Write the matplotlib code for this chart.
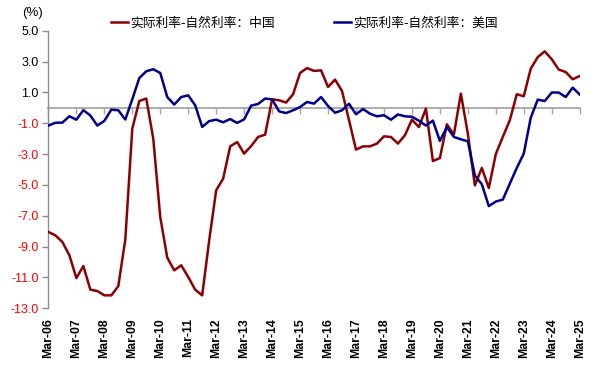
import numpy as np
import matplotlib
matplotlib.use('Agg')
import matplotlib.pyplot as plt

plt.rcParams['font.family'] = ['Liberation Sans', 'Noto Sans CJK SC', 'DejaVu Sans']

# ---- data (quarterly, Mar-06 .. Mar-25) ----
tick_labels = ['Mar-06', 'Mar-07', 'Mar-08', 'Mar-09', 'Mar-10', 'Mar-11', 'Mar-12',
               'Mar-13', 'Mar-14', 'Mar-15', 'Mar-16', 'Mar-17', 'Mar-18', 'Mar-19',
               'Mar-20', 'Mar-21', 'Mar-22', 'Mar-23', 'Mar-24', 'Mar-25']

series_names = ['实际利率-自然利率：中国', '实际利率-自然利率：美国']

china = [-8.05, -8.27, -8.7, -9.56, -11.04, -10.26, -11.79, -11.88, -12.16, -12.16,
         -11.56, -8.55, -1.35, 0.44, 0.6, -2.0, -7.08, -9.71, -10.54, -10.21,
         -10.97, -11.79, -12.16, -8.6, -5.35, -4.59, -2.5, -2.22, -2.97, -2.48,
         -1.89, -1.74, 0.55, 0.49, 0.34, 0.88, 2.26, 2.58, 2.39, 2.43,
         1.35, 1.83, 1.09, -0.8, -2.71, -2.5, -2.5, -2.32, -1.85, -1.89,
         -2.32, -1.78, -0.77, -1.25, -0.05, -3.45, -3.26, -1.07, -1.74, 0.92,
         -1.67, -5.03, -3.9, -5.2, -3.0, -1.89, -0.81, 0.88, 0.75, 2.54,
         3.29, 3.66, 3.15, 2.48, 2.32, 1.85, 2.06]

usa = [-1.15, -0.97, -0.96, -0.55, -0.77, -0.15, -0.5, -1.15, -0.85, -0.12,
       -0.16, -0.76, 0.55, 1.93, 2.37, 2.5, 2.26, 0.7, 0.21, 0.7,
       0.81, 0.16, -1.24, -0.86, -0.77, -0.94, -0.73, -0.98, -0.75, 0.14,
       0.25, 0.6, 0.55, -0.23, -0.34, -0.16, 0.05, 0.38, 0.27, 0.7,
       0.12, -0.32, -0.16, 0.26, -0.42, -0.08, -0.38, -0.55, -0.48, -0.77,
       -0.43, -0.55, -0.58, -0.84, -1.15, -0.83, -2.15, -1.25, -1.89, -2.04,
       -2.17, -4.38, -4.96, -6.37, -6.08, -5.95, -4.92, -3.9, -2.97, -0.64,
       0.53, 0.44, 0.99, 0.99, 0.7, 1.31, 0.86]

yticks = [5.0, 3.0, 1.0, -1.0, -3.0, -5.0, -7.0, -9.0, -11.0, -13.0]

# ---- figure ----
W, H = 604, 371
fig = plt.figure(figsize=(W / 100, H / 100), dpi=100)
ax = fig.add_axes([48.4 / W, 1 - 308.3 / H, (580.4 - 48.4) / W, (308.3 - 30.7) / H])

x = np.arange(len(china))
ax.plot(x, china, color='#8B0000', lw=1.8, label=series_names[0], zorder=3)
ax.plot(x, usa, color='#00008B', lw=1.8, label=series_names[1], zorder=4)

ax.set_xlim(0, len(china) - 1 + 0.1)
ax.set_ylim(-13, 5)

for s in ['top', 'right', 'bottom']:
    ax.spines[s].set_visible(False)
ax.spines['left'].set_color('#8C8C8C')
ax.spines['left'].set_linewidth(1.0)

# y axis
ax.set_yticks(yticks)
ax.set_yticklabels([f'{v:.1f}' for v in yticks])
ax.tick_params(axis='y', direction='out', length=4, width=1, color='#8C8C8C',
               labelsize=9, pad=3)
for lab, v in zip(ax.get_yticklabels(), yticks):
    lab.set_color('#FF0000' if v < 0 else '#000000')

# x axis labels at bottom
xt = np.arange(0, len(china), 4)
ax.set_xticks(xt)
ax.set_xticklabels(tick_labels, rotation=90, ha='center', va='top', fontweight='bold')
ax.tick_params(axis='x', length=0, labelsize=8.8, pad=7)

# zero line with tick marks
sec = ax.secondary_xaxis(13 / 18)
sec.set_xticks(xt)
sec.set_xticklabels([])
sec.tick_params(axis='x', direction='in', length=4, width=1, color='#A6A6A6')
for s in sec.spines.values():
    s.set_color('#A6A6A6')
    s.set_linewidth(1.3)

# legend and unit label
ax.legend(loc='center left', bbox_to_anchor=(111 / W, 1 - 23.3 / H),
          bbox_transform=fig.transFigure, ncol=2, frameon=False,
          prop={'family': ['Noto Sans CJK SC', 'Liberation Sans'], 'size': 9.2},
          handlelength=1.35, handletextpad=0.15, columnspacing=4.6,
          borderpad=0, borderaxespad=0)
fig.text(22 / W, 1 - 13.3 / H, '(%)', ha='left', va='center', fontsize=9.5)

fig.savefig('out.png', dpi=100)
